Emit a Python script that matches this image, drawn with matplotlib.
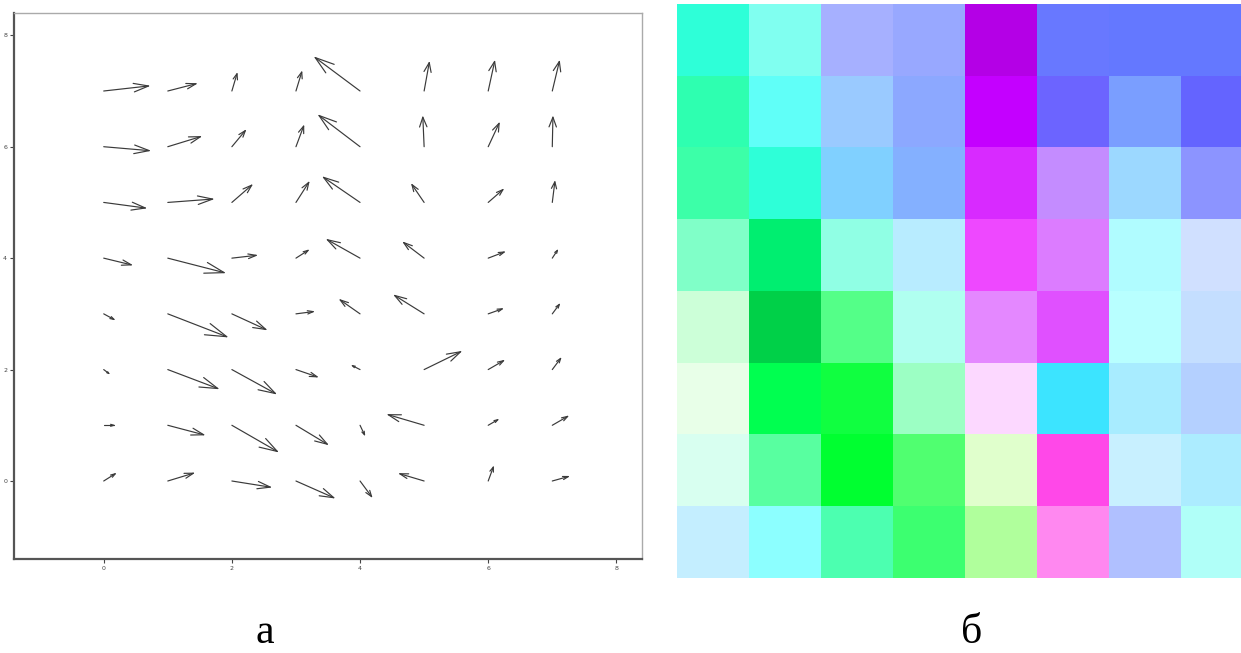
#!/usr/bin/env python3
# -*- coding: utf-8 -*-

import numpy as np
import matplotlib
matplotlib.use("Agg")
import matplotlib.pyplot as plt
from matplotlib.colors import to_rgb

# vector field on an 8x8 grid, rows are y = 0..7, columns x = 0..7
grid_x = list(range(8))
grid_y = list(range(8))

U = [
    [0.18, 0.40, 0.60, 0.59, 0.18, -0.38, 0.08, 0.25],
    [0.16, 0.56, 0.71, 0.49, 0.07, -0.56, 0.15, 0.24],
    [0.08, 0.78, 0.68, 0.33, -0.12, 0.57, 0.24, 0.13],
    [0.16, 0.92, 0.53, 0.27, -0.31, -0.46, 0.22, 0.11],
    [0.43, 0.88, 0.38, 0.19, -0.51, -0.32, 0.25, 0.08],
    [0.65, 0.70, 0.31, 0.20, -0.57, -0.19, 0.23, 0.04],
    [0.71, 0.51, 0.21, 0.12, -0.64, -0.02, 0.17, 0.01],
    [0.70, 0.44, 0.08, 0.09, -0.70, 0.08, 0.10, 0.11],
]
V = [
    [0.13, 0.14, -0.11, -0.30, -0.28, 0.13, 0.25, 0.08],
    [0.00, -0.17, -0.47, -0.34, -0.17, 0.19, 0.10, 0.16],
    [-0.07, -0.34, -0.43, -0.13, 0.07, 0.32, 0.16, 0.20],
    [-0.10, -0.41, -0.28, 0.04, 0.25, 0.33, 0.09, 0.17],
    [-0.12, -0.26, 0.05, 0.14, 0.33, 0.28, 0.11, 0.14],
    [-0.10, 0.06, 0.31, 0.36, 0.45, 0.32, 0.23, 0.37],
    [-0.07, 0.18, 0.29, 0.37, 0.56, 0.53, 0.42, 0.53],
    [0.09, 0.13, 0.31, 0.34, 0.60, 0.51, 0.53, 0.53],
]

# colour map of the same field, top row first
cells = [
    ["#2EFFD8", "#80FFF0", "#A6B0FF", "#98A8FF", "#B400E6", "#6878FF", "#6478FF", "#6478FF"],
    ["#2EFFB0", "#60FFF8", "#9ACAFF", "#8CA8FF", "#C400FF", "#6C64FF", "#7A9EFF", "#6464FF"],
    ["#3CFFA8", "#2EFFD8", "#80D0FF", "#84B0FF", "#D82AFF", "#C48CFF", "#9CD8FF", "#8C94FF"],
    ["#80FFC8", "#00EE70", "#90FFE4", "#B8ECFF", "#EE48FF", "#DC7CFF", "#B0FCFF", "#D0E0FF"],
    ["#CCFFD8", "#00D048", "#54FF88", "#B0FFF0", "#E488FF", "#E050FF", "#B8FFFF", "#C4DEFF"],
    ["#E8FFE8", "#00FF50", "#10FF40", "#9CFFC4", "#FCD8FF", "#3CE4FF", "#A8ECFF", "#B4D0FF"],
    ["#D8FFF0", "#58FFA0", "#00FF30", "#50FF70", "#E0FFCC", "#FF48E8", "#C8F0FF", "#ACECFF"],
    ["#C4EEFF", "#8CFFFF", "#4CFFB0", "#3CFF70", "#B0FF9C", "#FF88F0", "#B0C0FF", "#B0FFF8"],
]

ticks = [0, 2, 4, 6, 8]
panel_labels = ["а", "б"]


def draw_arrows(ax, x, y, u, v, alpha=0.33, beta=0.33, **kw):
    # matlab style open arrowheads
    for xi, yi, ui, vi in zip(x, y, u, v):
        tx, ty = xi + ui, yi + vi
        ax.plot([xi, tx], [yi, ty], **kw)
        hx = [tx - alpha * (ui + beta * vi), tx, tx - alpha * (ui - beta * vi)]
        hy = [ty - alpha * (vi - beta * ui), ty, ty - alpha * (vi + beta * ui)]
        ax.plot(hx, hy, **kw)


fig = plt.figure(figsize=(12.41, 6.53), dpi=100)

ax = fig.add_axes([14 / 1241, 94 / 653, 628 / 1241, 546 / 653])
X, Y = np.meshgrid(grid_x, grid_y)
draw_arrows(ax, X.ravel(), Y.ravel(), np.array(U).ravel(), np.array(V).ravel(),
            color="#3a3a3a", lw=0.85, solid_capstyle="round")

ax.set_xlim(-1.4, 8.4)
ax.set_ylim(-1.4, 8.4)
ax.set_xticks(ticks)
ax.set_yticks(ticks)
ax.tick_params(direction="out", length=3, width=0.8, labelsize=4.5,
               colors="#444444", pad=2)
for side in ["left", "bottom"]:
    ax.spines[side].set_color("#555555")
    ax.spines[side].set_linewidth(1.6)
for side in ["top", "right"]:
    ax.spines[side].set_color("#aaaaaa")
    ax.spines[side].set_linewidth(1.0)

ax2 = fig.add_axes([677 / 1241, 75 / 653, 576 / 1241, 574 / 653])
img = np.array([[to_rgb(c) for c in row] for row in cells])
ax2.imshow(img, aspect="auto", interpolation="nearest")
ax2.axis("off")

fig.text(265 / 1241, 10 / 653, panel_labels[0], ha="center", va="baseline",
         fontsize=30, family="Liberation Serif")
fig.text(972 / 1241, 10 / 653, panel_labels[1], ha="center", va="baseline",
         fontsize=30, family="Liberation Serif")

fig.savefig("out.png", dpi=100)
plt.close()
